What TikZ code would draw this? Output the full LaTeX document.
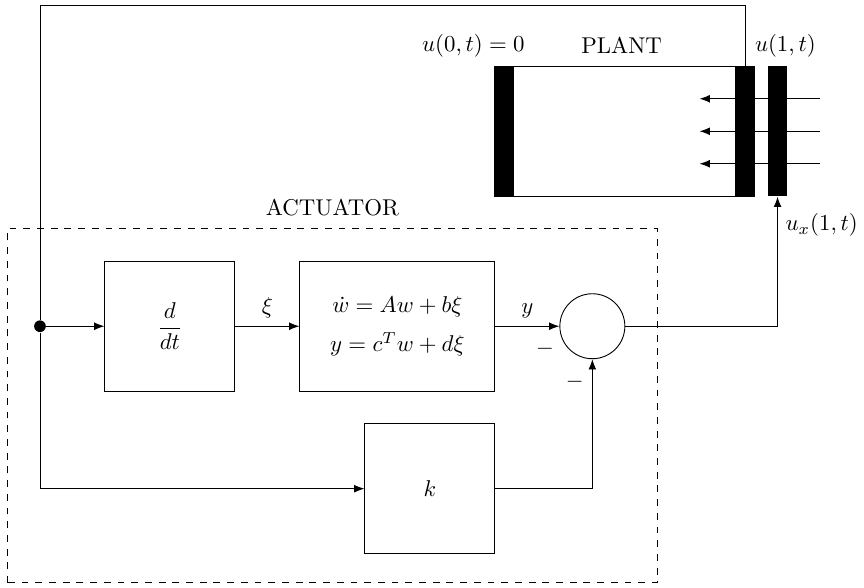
\documentclass[tikz,border=0pt]{standalone}
\usepackage{amsmath}
\usepackage{tikz}
\usetikzlibrary{arrows.meta}

\begin{document}
\begin{tikzpicture}[
    >={Latex[length=4.5pt,width=3.4pt]},
    block/.style={draw, minimum width=2cm, minimum height=2cm},
    sumnode/.style={draw, circle, minimum size=1cm, inner sep=0pt},
    wall/.style={fill=black, minimum width=0.3cm, minimum height=2cm, inner sep=0pt}
]
\useasboundingbox (-0.615,-4.015) rectangle (12.68,5.02);

% Actuator frame
\draw[dashed] (-0.5,-3.95) rectangle (9.5,1.5);
\node (actlabel) at (4.5,1.83) {ACTUATOR};

% Actuator blocks
\node[block] (ddt) at (2,0) {$\dfrac{d}{dt}$};
\node[block, minimum width=3cm, align=center] (sys) at (5.5,0)
    {$\dot w = Aw + b\xi$\\[5pt] $y = c^T w + d\xi$};
\node[sumnode] (sum) at (8.5,0) {};
\node[block] (gain) at (6,-2.5) {$k$};
\node[circle, fill=black, inner sep=0pt, minimum size=0.18cm] (split) at (0,0) {};

% Plant
\draw (7,2) rectangle (11,4);
\node[wall] (wallL) at (7.15,3) {};
\node[wall] (wallR) at (10.85,3) {};
\node[wall] (wallA) at (11.35,3) {};
\foreach \y in {2.5,3,3.5}
    \draw[->] (12,\y) -- (10.15,\y);
\node (bc0) at (6.67,4.32) {$u(0,t)=0$};
\node (plantlabel) at (8.95,4.32) {PLANT};
\node (bc1) at (11.47,4.32) {$u(1,t)$};

% Signals
\draw[->] (split) -- (ddt);
\draw[->] (ddt) -- node[above] {$\xi$} (sys);
\draw[->] (sys) -- node[above] {$y$} (sum);
\draw[->] (split) |- (gain);
\draw[->] (gain) -| (sum);
\draw[->] (sum) -| node[pos=0.89, right] {$u_x(1,t)$} (wallA.south);
\draw (split) |- (0,4.94) -| (wallR.north);

% Signs
\node (minus1) at (7.77,-0.34) {$-$};
\node (minus2) at (8.23,-0.86) {$-$};

\end{tikzpicture}
\end{document}
